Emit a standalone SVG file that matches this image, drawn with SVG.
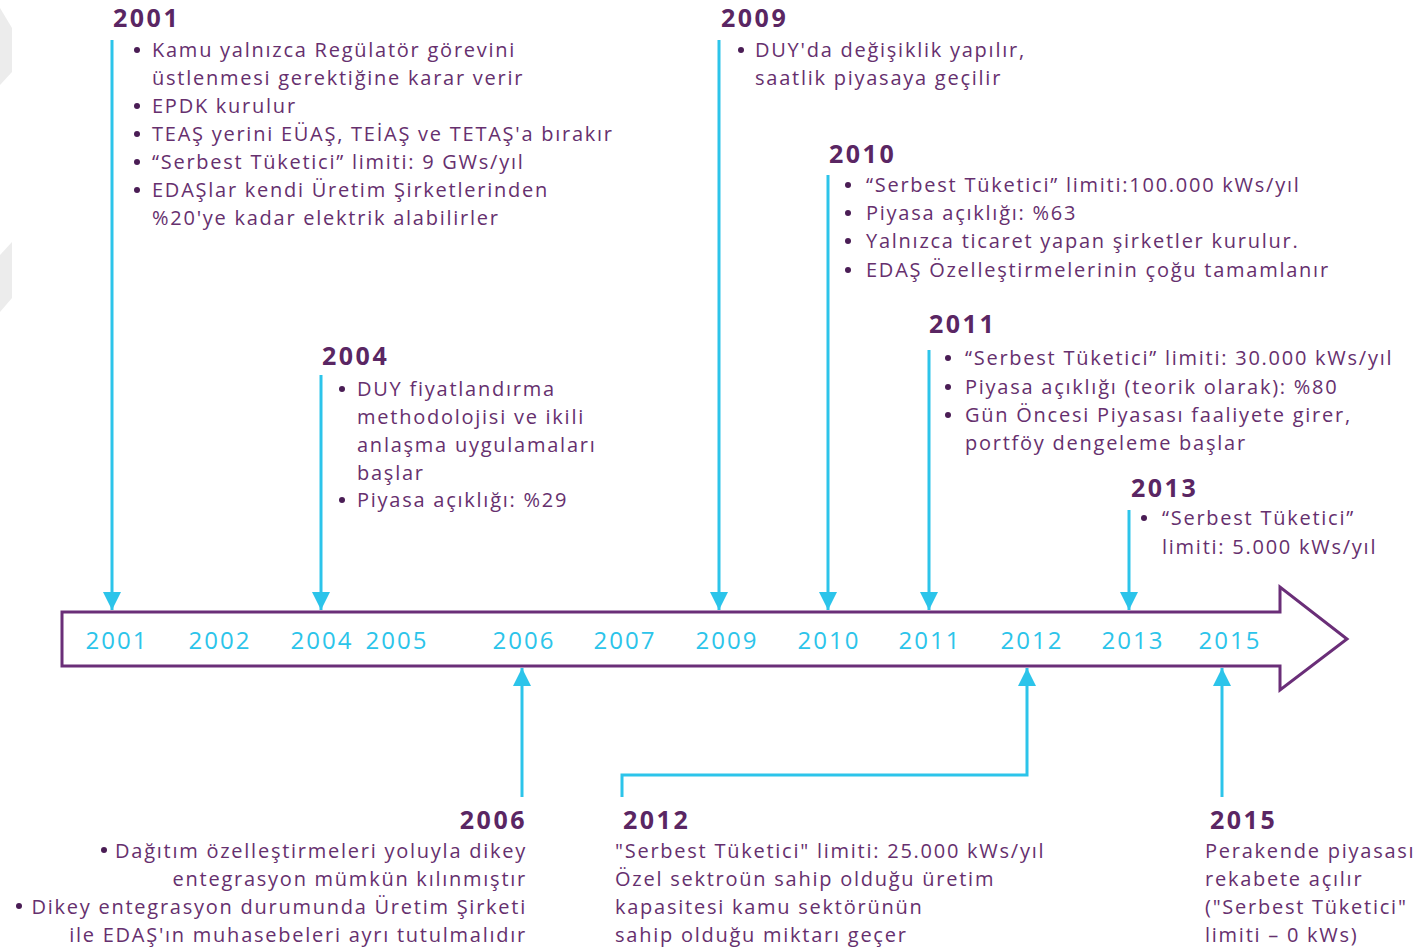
<svg xmlns="http://www.w3.org/2000/svg" width="1415" height="951" viewBox="0 0 1415 951">
<defs>
<style>
.t{font-family:"Open Sans","Liberation Sans",sans-serif;font-size:20px;fill:#66306e;letter-spacing:1.75px;}
.h{font-family:"Open Sans","Liberation Sans",sans-serif;font-size:25px;font-weight:bold;fill:#5a2663;letter-spacing:2.5px;}
.ax{font-family:"Open Sans","Liberation Sans",sans-serif;font-size:24px;fill:#2cc4ea;text-anchor:middle;letter-spacing:2px;}
.r{text-anchor:end;}
.ln{stroke:#2cc4ea;stroke-width:3;fill:none;}
.dot{fill:#4a1d55;}
</style>
<marker id="ah" viewBox="0 0 10 10" refX="10" refY="5" markerWidth="6" markerHeight="6" markerUnits="strokeWidth" orient="auto">
<path d="M0,0 L10,5 L0,10 Z" fill="#2cc4ea"/>
</marker>
</defs>
<rect width="1415" height="951" fill="#ffffff"/>
<g id="bg-shapes">
<polygon points="0,8 12,28 12,72 0,85" fill="#ececec"/>
<polygon points="0,255 12,242 12,298 0,312" fill="#ececec"/>
</g>
<g id="axis">
<path d="M62,612 L1280,612 L1280,587 L1347,639 L1280,690 L1280,666 L62,666 Z" fill="#ffffff" stroke="#6a2e78" stroke-width="3" stroke-linejoin="miter"/>
<text class="ax" x="117" y="649">2001</text>
<text class="ax" x="220" y="649">2002</text>
<text class="ax" x="322" y="649">2004</text>
<text class="ax" x="397" y="649">2005</text>
<text class="ax" x="524" y="649">2006</text>
<text class="ax" x="625" y="649">2007</text>
<text class="ax" x="727" y="649">2009</text>
<text class="ax" x="829" y="649">2010</text>
<text class="ax" x="930" y="649">2011</text>
<text class="ax" x="1032" y="649">2012</text>
<text class="ax" x="1133" y="649">2013</text>
<text class="ax" x="1230" y="649">2015</text>
</g>
<g id="connectors">
<path class="ln" d="M112,40 L112,610" marker-end="url(#ah)"/>
<path class="ln" d="M321,375 L321,610" marker-end="url(#ah)"/>
<path class="ln" d="M719,40 L719,610" marker-end="url(#ah)"/>
<path class="ln" d="M828,175 L828,610" marker-end="url(#ah)"/>
<path class="ln" d="M929,350 L929,610" marker-end="url(#ah)"/>
<path class="ln" d="M1129,510 L1129,610" marker-end="url(#ah)"/>
<path class="ln" d="M522,797 L522,668" marker-end="url(#ah)"/>
<path class="ln" d="M622,797 L622,775 L1027,775 L1027,668" marker-end="url(#ah)"/>
<path class="ln" d="M1222,797 L1222,668" marker-end="url(#ah)"/>
</g>
<g id="n2001">
<text class="h" x="113" y="27">2001</text>
<circle class="dot" cx="137" cy="50" r="3"/>
<text class="t" x="152" y="57">Kamu yalnızca Regülatör görevini</text>
<text class="t" x="152" y="85">üstlenmesi gerektiğine karar verir</text>
<circle class="dot" cx="137" cy="106" r="3"/>
<text class="t" x="152" y="113">EPDK kurulur</text>
<circle class="dot" cx="137" cy="134" r="3"/>
<text class="t" x="152" y="141">TEAŞ yerini EÜAŞ, TEİAŞ ve TETAŞ'a bırakır</text>
<circle class="dot" cx="137" cy="162" r="3"/>
<text class="t" x="152" y="169">“Serbest Tüketici” limiti: 9 GWs/yıl</text>
<circle class="dot" cx="137" cy="190" r="3"/>
<text class="t" x="152" y="197">EDAŞlar kendi Üretim Şirketlerinden</text>
<text class="t" x="152" y="225">%20'ye kadar elektrik alabilirler</text>
</g>
<g id="n2004">
<text class="h" x="322" y="365">2004</text>
<circle class="dot" cx="342" cy="389" r="3"/>
<text class="t" x="357" y="396">DUY fiyatlandırma</text>
<text class="t" x="357" y="424">methodolojisi ve ikili</text>
<text class="t" x="357" y="452">anlaşma uygulamaları</text>
<text class="t" x="357" y="480">başlar</text>
<circle class="dot" cx="342" cy="500" r="3"/>
<text class="t" x="357" y="507">Piyasa açıklığı: %29</text>
</g>
<g id="n2009">
<text class="h" x="721" y="27">2009</text>
<circle class="dot" cx="741" cy="50" r="3"/>
<text class="t" x="755" y="57">DUY'da değişiklik yapılır,</text>
<text class="t" x="755" y="85">saatlik piyasaya geçilir</text>
</g>
<g id="n2010">
<text class="h" x="829" y="163">2010</text>
<circle class="dot" cx="848" cy="185" r="3"/>
<text class="t" x="866" y="192">“Serbest Tüketici” limiti:100.000 kWs/yıl</text>
<circle class="dot" cx="848" cy="213" r="3"/>
<text class="t" x="866" y="220">Piyasa açıklığı: %63</text>
<circle class="dot" cx="848" cy="241" r="3"/>
<text class="t" x="866" y="248">Yalnızca ticaret yapan şirketler kurulur.</text>
<circle class="dot" cx="848" cy="270" r="3"/>
<text class="t" x="866" y="277">EDAŞ Özelleştirmelerinin çoğu tamamlanır</text>
</g>
<g id="n2011">
<text class="h" x="929" y="333">2011</text>
<circle class="dot" cx="948" cy="358" r="3"/>
<text class="t" x="965" y="365">“Serbest Tüketici” limiti: 30.000 kWs/yıl</text>
<circle class="dot" cx="948" cy="387" r="3"/>
<text class="t" x="965" y="394">Piyasa açıklığı (teorik olarak): %80</text>
<circle class="dot" cx="948" cy="415" r="3"/>
<text class="t" x="965" y="422">Gün Öncesi Piyasası faaliyete girer,</text>
<text class="t" x="965" y="450">portföy dengeleme başlar</text>
</g>
<g id="n2013">
<text class="h" x="1131" y="497">2013</text>
<circle class="dot" cx="1144" cy="518" r="3"/>
<text class="t" x="1162" y="525">“Serbest Tüketici”</text>
<text class="t" x="1162" y="554">limiti: 5.000 kWs/yıl</text>
</g>
<g id="n2006">
<text class="h r" x="527" y="829">2006</text>
<circle class="dot" cx="104" cy="850" r="3"/>
<text class="t r" x="527" y="858">Dağıtım özelleştirmeleri yoluyla dikey</text>
<text class="t r" x="527" y="886">entegrasyon mümkün kılınmıştır</text>
<circle class="dot" cx="19" cy="906" r="3"/>
<text class="t r" x="527" y="914">Dikey entegrasyon durumunda Üretim Şirketi</text>
<text class="t r" x="527" y="942">ile EDAŞ'ın muhasebeleri ayrı tutulmalıdır</text>
</g>
<g id="n2012">
<text class="h" x="623" y="829">2012</text>
<text class="t" x="615" y="858">"Serbest Tüketici" limiti: 25.000 kWs/yıl</text>
<text class="t" x="615" y="886">Özel sektroün sahip olduğu üretim</text>
<text class="t" x="615" y="914">kapasitesi kamu sektörünün</text>
<text class="t" x="615" y="942">sahip olduğu miktarı geçer</text>
</g>
<g id="n2015">
<text class="h" x="1210" y="829">2015</text>
<text class="t" x="1205" y="858">Perakende piyasası</text>
<text class="t" x="1205" y="886">rekabete açılır</text>
<text class="t" x="1205" y="914">("Serbest Tüketici"</text>
<text class="t" x="1205" y="942">limiti  – 0 kWs)</text>
</g>
</svg>
